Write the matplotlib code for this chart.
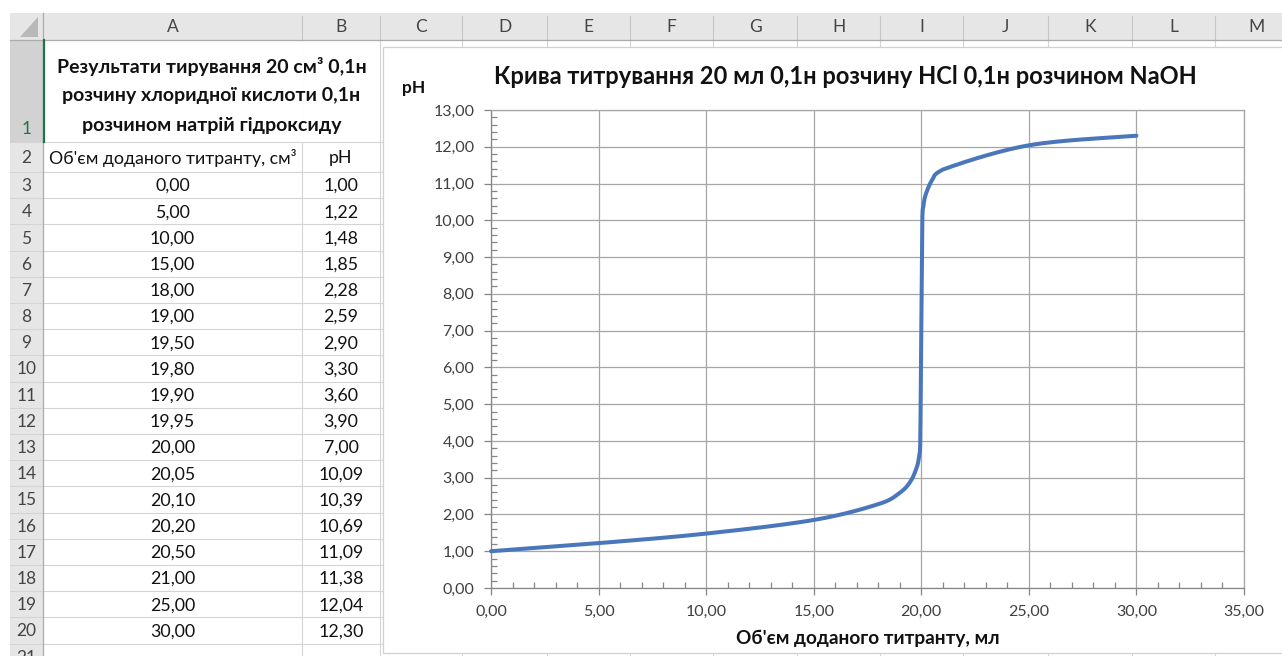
import numpy as np
import matplotlib
matplotlib.use("Agg")
import matplotlib.pyplot as plt
from matplotlib.patches import Rectangle, Polygon

# ---------------- data ----------------
volume = [0.00, 5.00, 10.00, 15.00, 18.00, 19.00, 19.50, 19.80, 19.90, 19.95,
          20.00, 20.05, 20.10, 20.20, 20.50, 21.00, 25.00, 30.00]
ph = [1.00, 1.22, 1.48, 1.85, 2.28, 2.59, 2.90, 3.30, 3.60, 3.90,
      7.00, 10.09, 10.39, 10.69, 11.09, 11.38, 12.04, 12.30]
x_ticks = [0, 5, 10, 15, 20, 25, 30, 35]
y_ticks = list(range(0, 14))
col_letters = ["A", "B", "C", "D", "E", "F", "G", "H", "I", "J", "K", "L", "M"]
table_title = ["Результати тирування 20 см³ 0,1н",
               "розчину хлоридної кислоти 0,1н",
               "розчином натрій гідроксиду"]
head_a = "Об'єм доданого титранту, см³"
head_b = "pH"
chart_title = "Крива титрування 20 мл 0,1н розчину HCl 0,1н розчином NaOH"
x_title = "Об'єм доданого титранту, мл"
y_title = "pH"

def fmt(v):
    return f"{v:.2f}".replace(".", ",")

FONT = ["Lato", "Open Sans", "DejaVu Sans"]
plt.rcParams["font.family"] = FONT

W, H = 1282, 656
fig = plt.figure(figsize=(W / 100, H / 100), dpi=100)
fig.patch.set_facecolor("white")

# background "spreadsheet" axes in pixel coordinates
bg = fig.add_axes([0, 0, 1, 1])
bg.set_xlim(0, W)
bg.set_ylim(H, 0)
bg.axis("off")

col_edges = [43, 302, 380, 462, 547, 630, 713, 797, 880, 963, 1048, 1132, 1215, 1299]
row_edges = [40, 142, 172] + [172 + 26.2 * k for k in range(1, 20)]
hdr_top, hdr_bot = 13, 40
rh_left, rh_right = 10, 43
grid_c = "#d4d4d4"
hdr_bg = "#e6e6e6"
hdr_line = "#c6c6c6"
cell_fs = 12.8

# column header band
bg.add_patch(Rectangle((rh_left, hdr_top), W - rh_left, hdr_bot - hdr_top,
                       facecolor=hdr_bg, edgecolor="none", zorder=1))
# row header band
bg.add_patch(Rectangle((rh_left, hdr_bot), rh_right - rh_left, H - hdr_bot,
                       facecolor=hdr_bg, edgecolor="none", zorder=1))
# selected row 1 header
bg.add_patch(Rectangle((rh_left, row_edges[0]), rh_right - rh_left, row_edges[1] - row_edges[0],
                       facecolor="#d2d2d2", edgecolor="none", zorder=1.1))
# corner triangle
bg.add_patch(Polygon([[38, 17], [38, 37], [20, 37]], closed=True,
                     facecolor="#b8b8b8", edgecolor="none", zorder=1.2))

# column header separators and letters
for i, letter in enumerate(col_letters):
    x0, x1 = col_edges[i], col_edges[i + 1]
    bg.plot([x1, x1], [hdr_top + 3, hdr_bot], color=hdr_line, lw=0.8, zorder=2)
    bg.text((x0 + x1) / 2, (hdr_top + hdr_bot) / 2 + 1, letter, ha="center", va="center",
            fontsize=12.5, color="#444444", zorder=3)
bg.plot([rh_left, W], [hdr_bot, hdr_bot], color="#ababab", lw=0.9, zorder=2)
bg.plot([rh_right, rh_right], [hdr_top, H], color="#ababab", lw=0.9, zorder=2)

# cell grid
for y in row_edges[1:]:
    bg.plot([rh_left, W], [y, y], color=grid_c, lw=0.8, zorder=1.5)
for x in col_edges[1:]:
    bg.plot([x, x], [hdr_bot, H], color=grid_c, lw=0.8, zorder=1.5)
# merged A1:B1 -> erase separator in row 1
bg.plot([col_edges[1], col_edges[1]], [row_edges[0] + 0.6, row_edges[1] - 0.6],
        color="white", lw=1.6, zorder=1.6)
# green selection line
bg.plot([rh_right + 0.5, rh_right + 0.5], [row_edges[0], row_edges[1]],
        color="#217346", lw=1.6, zorder=2.5)

# row numbers
n_rows = len(row_edges) - 1
for r in range(n_rows):
    y0, y1 = row_edges[r], row_edges[r + 1]
    yc = (y0 + y1) / 2 + 1
    color = "#444444"
    if r == 0:
        yc = y1 - 13
        color = "#217346"
    bg.text((rh_left + rh_right) / 2, yc, str(r + 1), ha="center", va="center",
            fontsize=12.5, color=color, zorder=3)
# partial row 21
bg.text((rh_left + rh_right) / 2, row_edges[-1] + 13, "21", ha="center", va="center",
        fontsize=12.5, color="#444444", zorder=3, clip_on=True)

# table title
tcx = (col_edges[0] + col_edges[2]) / 2
for k, line in enumerate(table_title):
    bg.text(tcx, 67 + 29 * k, line, ha="center", va="center", fontsize=14,
            fontweight="bold", color="#111111", zorder=3)
# headers
bg.text((col_edges[0] + col_edges[1]) / 2, (row_edges[1] + row_edges[2]) / 2 + 1, head_a,
        ha="center", va="center", fontsize=cell_fs, color="#111111", zorder=3)
bg.text((col_edges[1] + col_edges[2]) / 2, (row_edges[1] + row_edges[2]) / 2 + 1, head_b,
        ha="center", va="center", fontsize=cell_fs, color="#111111", zorder=3)
# values
for i, (v, p) in enumerate(zip(volume, ph)):
    y0, y1 = row_edges[i + 2], row_edges[i + 3]
    yc = (y0 + y1) / 2 + 1
    bg.text((col_edges[0] + col_edges[1]) / 2, yc, fmt(v), ha="center", va="center",
            fontsize=cell_fs, color="#111111", zorder=3)
    bg.text((col_edges[1] + col_edges[2]) / 2, yc, fmt(p), ha="center", va="center",
            fontsize=cell_fs, color="#111111", zorder=3)

# chart area
bg.add_patch(Rectangle((383, 47), W + 20 - 383, 653 - 47, facecolor="white",
                       edgecolor="#d0d0d0", lw=0.9, zorder=5))
bg.text(845, 77, chart_title, ha="center", va="center", fontsize=17,
        fontweight="bold", color="#111111", zorder=6)
bg.text(414, 88, y_title, ha="center", va="center", fontsize=12.5,
        fontweight="bold", color="#111111", zorder=6)
bg.text(868, 638, x_title, ha="center", va="center", fontsize=13.7,
        fontweight="bold", color="#111111", zorder=6)

# plot axes
L, R, T, B = 491, 1244, 110, 588
ax = fig.add_axes([L / W, (H - B) / H, (R - L) / W, (B - T) / H])
ax.set_facecolor("none")
ax.set_xlim(0, 35)
ax.set_ylim(0, 13)
ax.set_xticks(x_ticks)
ax.set_xticklabels([fmt(v) for v in x_ticks])
ax.set_yticks(y_ticks)
ax.set_yticklabels([fmt(v) for v in y_ticks])
ax.set_xticks(np.arange(0, 35.01, 1), minor=True)
ax.set_yticks(np.arange(0, 13.01, 0.2), minor=True)
axis_c = "#868686"
ax.tick_params(which="major", direction="out", length=5, width=0.9, color=axis_c,
               labelsize=11.5, labelcolor="#404040", pad=7)
ax.tick_params(which="minor", direction="in", length=4, width=0.9, color=axis_c)
ax.grid(True, which="major", color="#a6a6a6", lw=0.9)
for s in ["left", "bottom"]:
    ax.spines[s].set_color(axis_c)
    ax.spines[s].set_linewidth(0.9)
for s in ["top", "right"]:
    ax.spines[s].set_color("#a6a6a6")
    ax.spines[s].set_linewidth(0.9)
ax.set_axisbelow(True)

# smoothed line (Excel-style Bezier) computed in display space
pts = ax.transData.transform(np.column_stack([volume, ph]))
curve = []
n = len(pts)
t = np.linspace(0, 1, 40)[:, None]
for i in range(n - 1):
    p0 = pts[i - 1] if i > 0 else pts[i]
    p1 = pts[i]
    p2 = pts[i + 1]
    p3 = pts[i + 2] if i + 2 < n else pts[i + 1]
    c1 = p1 + (p2 - p0) / 6.0
    c2 = p2 - (p3 - p1) / 6.0
    lo = np.minimum(p1, p2)
    hi = np.maximum(p1, p2)
    c1 = np.clip(c1, lo, hi)
    c2 = np.clip(c2, lo, hi)
    seg = ((1 - t) ** 3) * p1 + 3 * ((1 - t) ** 2) * t * c1 + 3 * (1 - t) * t ** 2 * c2 + t ** 3 * p2
    curve.append(seg if i == 0 else seg[1:])
curve = np.vstack(curve)
curve_data = ax.transData.inverted().transform(curve)
ax.plot(curve_data[:, 0], curve_data[:, 1], color="#4a76bb", lw=2.9,
        solid_capstyle="round", solid_joinstyle="round", zorder=4, clip_on=False)

fig.savefig("out.png", dpi=100, facecolor="white")
